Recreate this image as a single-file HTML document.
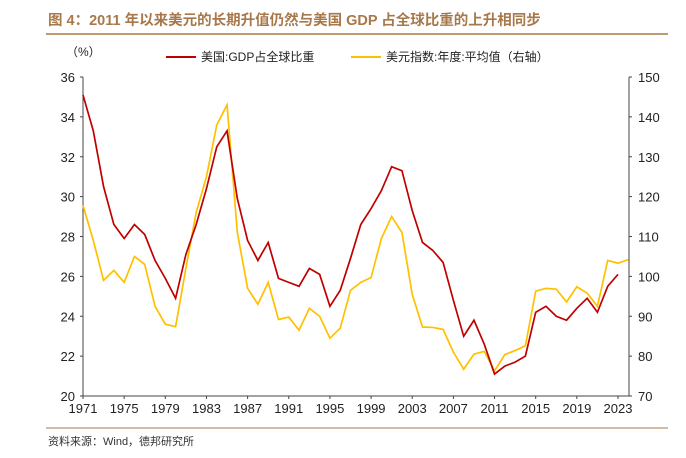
<!DOCTYPE html>
<html><head><meta charset="utf-8"><style>
body{margin:0;background:#fff;width:686px;height:453px;overflow:hidden;font-family:"Liberation Sans","Noto Sans CJK SC",sans-serif}
</style></head><body>
<svg width="686" height="453" viewBox="0 0 686 453" xmlns="http://www.w3.org/2000/svg" font-family="Liberation Sans, Noto Sans CJK SC, sans-serif">
<text x="48" y="25" font-size="14.5" font-weight="bold" fill="#a8784a">图 4：2011 年以来美元的长期升值仍然与美国 GDP 占全球比重的上升相同步</text>
<line x1="46" y1="34" x2="668" y2="34" stroke="#a8784a" stroke-width="1.5"/>
<line x1="46" y1="428" x2="668" y2="428" stroke="#a8784a" stroke-width="1"/>
<text x="48" y="445" font-size="11" fill="#333">资料来源：Wind，德邦研究所</text>
<text x="66" y="56" font-size="12" fill="#222">（%）</text>
<g>
<line x1="166" y1="57" x2="196" y2="57" stroke="#c00000" stroke-width="2"/>
<text x="201" y="61" font-size="12" fill="#222">美国:GDP占全球比重</text>
<line x1="351" y1="57" x2="381" y2="57" stroke="#ffc000" stroke-width="2"/>
<text x="386" y="61" font-size="12" fill="#222">美元指数:年度:平均值（右轴）</text>
</g>
<g id="axes"></g>
<g id="marks"></g>
</svg>
<script>
const years=[];for(let y=1971;y<=2024;y++)years.push(y);
const gdpShare=[35.1,33.3,30.5,28.6,27.9,28.6,28.1,26.8,25.9,24.9,27.1,28.6,30.4,32.5,33.3,29.9,27.8,26.8,27.7,25.9,25.7,25.5,26.4,26.1,24.5,25.3,26.9,28.6,29.4,30.3,31.5,31.3,29.3,27.7,27.3,26.7,24.8,23.0,23.8,22.6,21.1,21.5,21.7,22.0,24.2,24.5,24.0,23.8,24.4,24.9,24.2,25.5,26.1];
const dollarIndex=[117.8,109,99,101.5,98.5,105,103,92.5,88,87.4,102,116,125,138,143,111,97,93,98.5,89.2,89.8,86.5,92,90,84.5,87,96.5,98.5,99.7,109.5,115,111,95.5,87.3,87.2,86.7,81,76.7,80.5,81.2,76.3,80.4,81.4,82.6,96.3,97,96.8,93.6,97.4,95.8,92.5,104,103.3,104.2];
const leftTicks=[20,22,24,26,28,30,32,34,36];
const rightTicks=[70,80,90,100,110,120,130,140,150];
const xTickYears=[1971,1975,1979,1983,1987,1991,1995,1999,2003,2007,2011,2015,2019,2023];
const X0=83,X1=629,Y0=396,Y1=77;
const x=yr=>X0+(yr-1971)*(618-83)/52;
const yL=v=>Y0-(v-20)/16*(Y0-Y1);
const yR=v=>Y0-(v-70)/80*(Y0-Y1);
const NS="http://www.w3.org/2000/svg";
function mk(tag,attrs,parent,txt){const e=document.createElementNS(NS,tag);for(const k in attrs)e.setAttribute(k,attrs[k]);if(txt!=null)e.textContent=txt;parent.appendChild(e);return e;}
const ax=document.getElementById('axes'),mg=document.getElementById('marks');
let e;
e=mk('line',{x1:X0,y1:Y1,x2:X0,y2:Y0,stroke:'#444','stroke-width':1},ax);


e=mk('line',{x1:X1,y1:Y1,x2:X1,y2:Y0,stroke:'#444','stroke-width':1},ax);


e=mk('line',{x1:X0,y1:Y0,x2:X1,y2:Y0,stroke:'#444','stroke-width':1},ax);


leftTicks.forEach(v=>{mk('line',{x1:X0-3,y1:yL(v),x2:X0,y2:yL(v),stroke:'#444'},ax);
e=mk('text',{x:X0-8,y:yL(v)+5,'font-size':13,'text-anchor':'end',fill:'#222'},ax,v);

});
rightTicks.forEach(v=>{mk('line',{x1:X1,y1:yR(v),x2:X1+3,y2:yR(v),stroke:'#444'},ax);
e=mk('text',{x:X1+9,y:yR(v)+5,'font-size':13,fill:'#222'},ax,v);

});
xTickYears.forEach(v=>{mk('line',{x1:x(v),y1:Y0,x2:x(v),y2:Y0+3,stroke:'#444'},ax);
e=mk('text',{x:x(v),y:Y0+17,'font-size':13,'text-anchor':'middle',fill:'#222'},ax,v);

});
e=mk('polyline',{points:dollarIndex.map((v,i)=>x(years[i])+','+yR(v)).join(' '),fill:'none',stroke:'#ffc000','stroke-width':1.7},mg);


e=mk('polyline',{points:gdpShare.map((v,i)=>x(years[i])+','+yL(v)).join(' '),fill:'none',stroke:'#c00000','stroke-width':1.7},mg);


</script>
</body></html>
